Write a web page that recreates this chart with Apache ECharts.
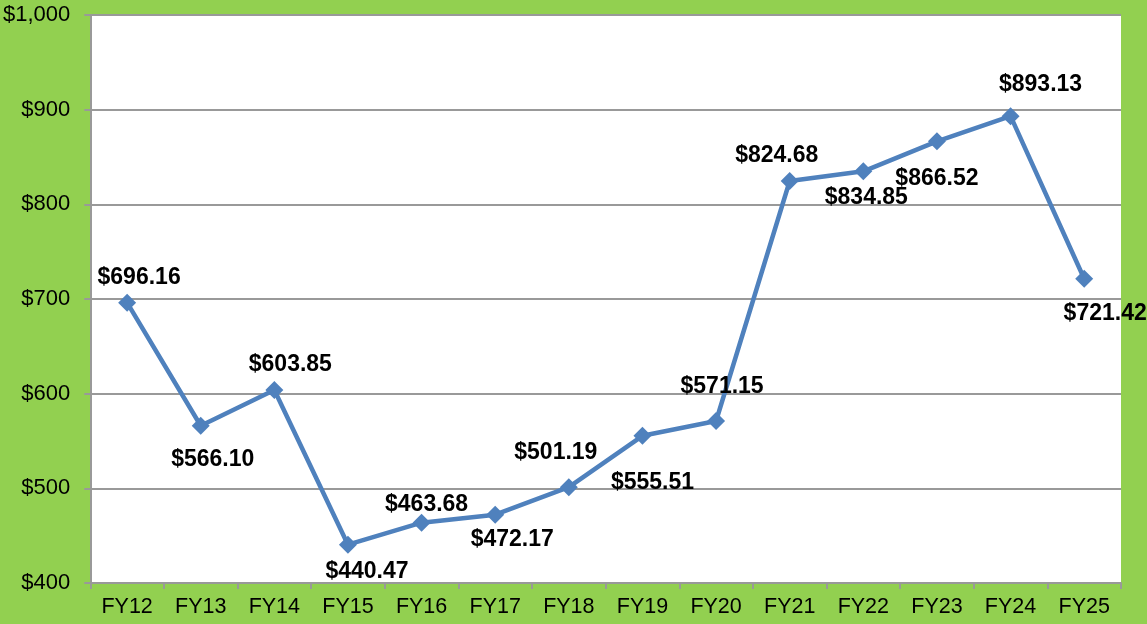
<!DOCTYPE html>
<html lang="en">
<head>
    <meta charset="UTF-8">
    <title>FY cost chart</title>
    <script src="https://cdn.jsdelivr.net/npm/echarts@6/dist/echarts.min.js"></script>
    <style>
        html, body { margin: 0; padding: 0; background: #92D050; }
    </style>
</head>
<body>
<div id="chart" style="width:1147px;height:624px;"></div>
<script type="text/javascript">

    var categories = ['FY12', 'FY13', 'FY14', 'FY15', 'FY16', 'FY17', 'FY18', 'FY19', 'FY20', 'FY21', 'FY22', 'FY23', 'FY24', 'FY25'];
    var values = [696.16, 566.10, 603.85, 440.47, 463.68, 472.17, 501.19, 555.51, 571.15, 824.68, 834.85, 866.52, 893.13, 721.42];
    var yTicks = [400, 500, 600, 700, 800, 900, 1000];

    // where each value label sits relative to its marker (px)
    var labelOffsets = [[12, -25], [12, 34], [16, -25], [19, 27], [5, -18], [17, 25], [-13, -35],
        [10, 47], [6, -34], [-13, -25], [3, 26], [0, 37], [30, -32], [21, 35]];

    var myChart = echarts.init(document.getElementById('chart'));

    var pointData = values.map(function (v, i) {
        return {
            value: v,
            label: {offset: labelOffsets[i]}
        };
    });

    var option = {
        backgroundColor: '#92D050',
        animation: false,
        grid: {
            left: 90, right: 26, top: 15, bottom: 41,
            show: true, backgroundColor: '#ffffff', borderWidth: 0
        },
        xAxis: {
            type: 'category',
            data: categories,
            boundaryGap: true,
            axisLine: {lineStyle: {color: '#999999', width: 2}},
            axisTick: {show: true, length: 6, alignWithLabel: false, lineStyle: {color: '#999999', width: 2}},
            axisLabel: {color: '#000', fontFamily: 'Liberation Sans, Arial', fontSize: 21.5, margin: 13}
        },
        yAxis: {
            type: 'value',
            min: yTicks[0],
            max: yTicks[yTicks.length - 1],
            interval: 100,
            axisLine: {show: true, lineStyle: {color: '#999999', width: 2}},
            axisTick: {show: true, length: 6, lineStyle: {color: '#999999', width: 2}},
            axisLabel: {
                color: '#000', fontFamily: 'Liberation Sans, Arial', fontSize: 22, margin: 20,
                formatter: function (v) {
                    return '$' + v.toLocaleString('en-US');
                }
            },
            splitLine: {lineStyle: {color: '#999999', width: 2}}
        },
        series: [
            {
                type: 'line',
                data: pointData,
                symbol: 'diamond',
                symbolSize: 18,
                lineStyle: {color: '#4F81BD', width: 4.5},
                itemStyle: {color: '#4F81BD'},
                label: {
                    show: true,
                    position: 'inside',
                    color: '#000',
                    fontFamily: 'Liberation Sans, Arial',
                    fontWeight: 'bold',
                    fontSize: 23,
                    formatter: function (p) {
                        return '$' + p.value.toFixed(2);
                    }
                }
            }
        ]
    };

    myChart.setOption(option);
</script>
</body>
</html>
